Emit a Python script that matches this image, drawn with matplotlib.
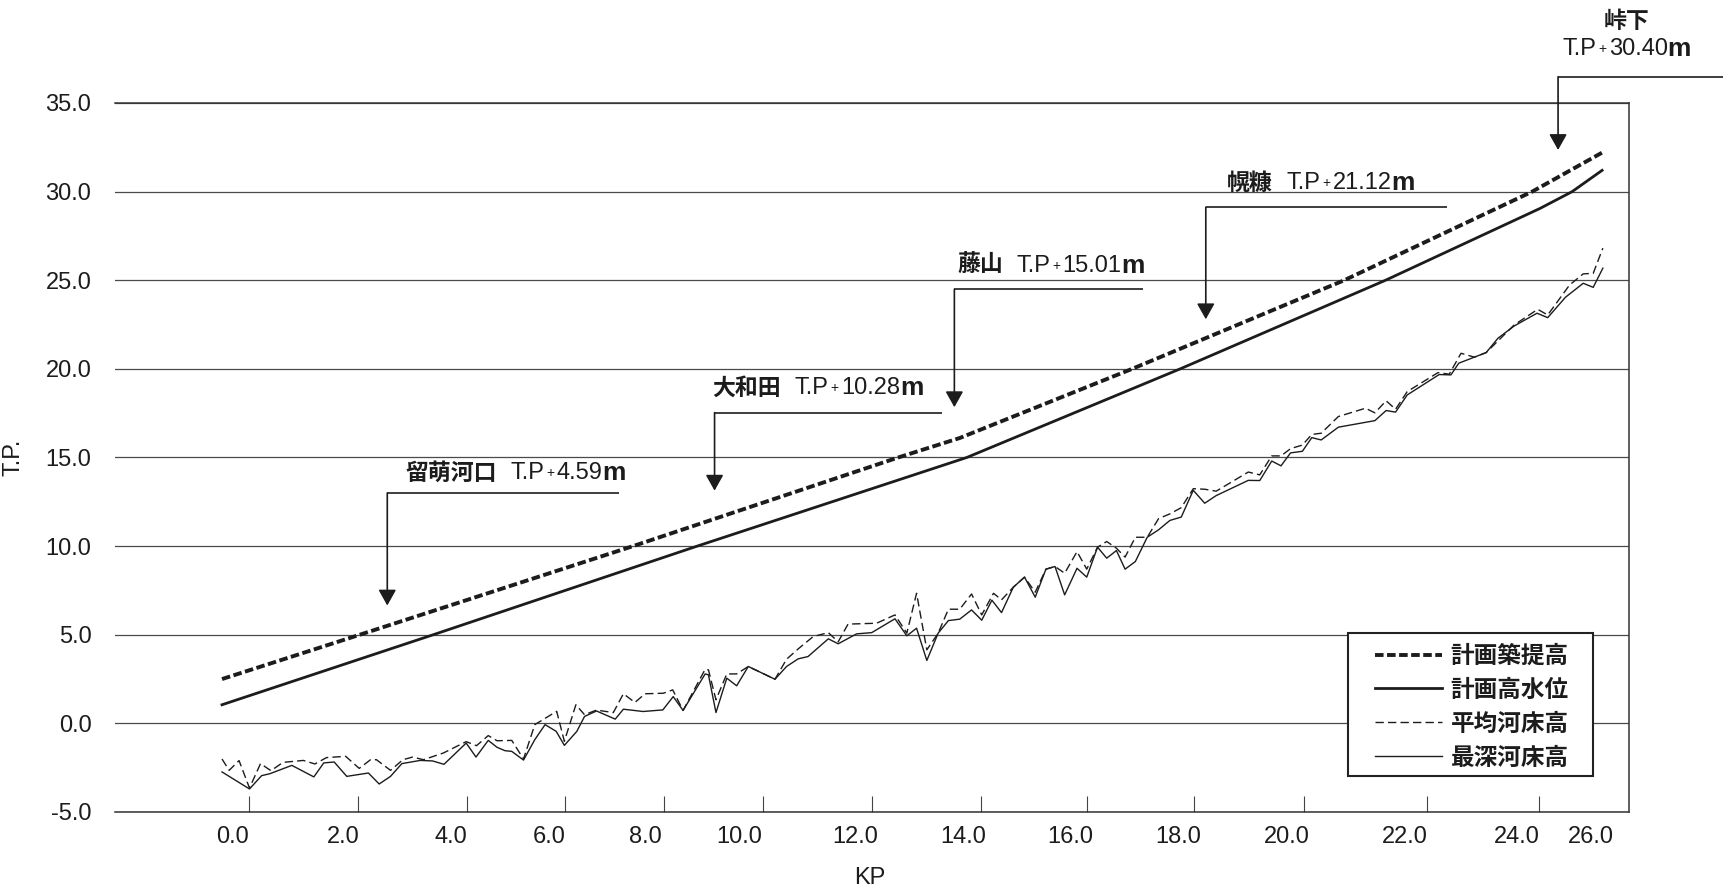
import numpy as np
import matplotlib
matplotlib.use("Agg")
import matplotlib.pyplot as plt
from matplotlib.patches import Rectangle, ArrowStyle
from matplotlib.offsetbox import TextArea, HPacker, AnnotationBbox

plt.rcParams["font.family"] = ["Liberation Sans", "Noto Sans CJK JP", "DejaVu Sans"]

# 計画築提高
kp_levee = [-0.2, 2.31, 7.75, 12.80, 13.94, 17.15, 20.97, 24.41, 26.30]
levee_height = [2.50, 5.00, 10.00, 15.00, 16.10, 20.00, 25.00, 30.00, 32.20]

# 計画高水位
kp_hwl = [-0.2, 3.67, 9.11, 14.07, 18.04, 21.67, 24.62, 25.49, 26.30]
hwl = [1.05, 5.00, 10.00, 15.00, 20.00, 25.00, 29.05, 30.00, 31.20]

# 平均河床高
kp_mean_bed = [-0.2, -0.07, 0.11, 0.30, 0.50, 0.69, 0.91, 1.28, 1.49, 1.70,
               2.05, 2.30, 2.51, 2.62, 2.88, 3.11, 3.29, 3.49, 3.86, 4.31,
               4.52, 4.76, 4.94, 5.24, 5.48, 5.71, 6.16, 6.32, 6.56, 6.74,
               6.99, 7.34, 7.55, 7.79, 8.00, 8.39, 8.59, 8.81, 9.28, 9.35,
               9.51, 9.74, 9.95, 10.16, 10.62, 10.82, 11.02, 11.28, 11.54, 11.71,
               11.88, 12.40, 12.74, 12.96, 13.14, 13.33, 13.54, 13.73, 13.94, 14.16,
               14.35, 14.57, 14.72, 14.94, 15.15, 15.35, 15.55, 15.72, 15.90, 16.13,
               16.31, 16.51, 16.68, 16.86, 17.02, 17.21, 17.43, 17.64, 17.85, 18.06,
               18.28, 18.49, 18.70, 19.29, 19.50, 19.72, 19.89, 20.06, 20.26, 20.42,
               20.58, 20.87, 21.33, 21.49, 21.68, 21.84, 22.04, 22.59, 22.79, 23.00,
               23.24, 23.45, 23.95, 24.56, 24.83, 25.42, 25.79, 26.06, 26.32]
mean_bed = [-2.01, -2.65, -2.10, -3.65, -2.27, -2.67, -2.20, -2.09, -2.29, -1.93,
            -1.86, -2.54, -2.05, -2.05, -2.65, -2.05, -1.90, -2.05, -1.67, -1.03,
            -1.26, -0.69, -0.98, -0.96, -2.01, -0.07, 0.68, -1.01, 1.05, 0.49,
            0.75, 0.61, 1.67, 1.18, 1.67, 1.70, 1.89, 0.73, 3.05, 3.02,
            1.33, 2.79, 2.79, 3.21, 2.49, 3.62, 4.20, 4.90, 5.12, 4.60,
            5.60, 5.65, 6.12, 5.09, 7.34, 4.15, 5.09, 6.44, 6.44, 7.30,
            6.12, 7.34, 6.97, 7.68, 8.25, 7.40, 8.70, 8.85, 8.47, 9.69,
            8.70, 9.94, 10.26, 9.88, 9.38, 10.50, 10.50, 11.55, 11.82, 12.17,
            13.24, 13.21, 13.10, 14.18, 14.02, 15.09, 15.09, 15.50, 15.70, 16.30,
            16.37, 17.31, 17.78, 17.52, 18.20, 17.72, 18.72, 19.79, 19.70, 20.88,
            20.66, 20.92, 22.48, 23.36, 23.04, 24.73, 25.36, 25.39, 26.81]

# 最深河床高
kp_deep_bed = [-0.2, 0.30, 0.52, 0.67, 1.07, 1.47, 1.65, 1.84, 2.07, 2.47,
               2.67, 2.88, 3.09, 3.43, 3.66, 3.87, 4.31, 4.51, 4.76, 4.94,
               5.10, 5.24, 5.48, 5.71, 5.92, 6.15, 6.32, 6.58, 6.74, 6.99,
               7.38, 7.55, 7.96, 8.38, 8.60, 8.81, 9.28, 9.35, 9.51, 9.74,
               9.95, 10.16, 10.62, 10.82, 11.02, 11.19, 11.54, 11.71, 12.03, 12.31,
               12.74, 12.96, 13.14, 13.33, 13.54, 13.73, 13.94, 14.16, 14.35, 14.54,
               14.72, 14.94, 15.15, 15.35, 15.55, 15.72, 15.90, 16.13, 16.31, 16.51,
               16.68, 16.86, 17.02, 17.21, 17.43, 17.64, 17.85, 18.06, 18.28, 18.49,
               18.70, 19.29, 19.50, 19.72, 19.89, 20.06, 20.26, 20.42, 20.58, 20.87,
               21.49, 21.68, 21.84, 22.04, 22.61, 22.82, 22.96, 23.45, 23.66, 23.95,
               24.54, 24.83, 25.31, 25.79, 26.06, 26.32]
deep_bed = [-2.74, -3.70, -2.95, -2.84, -2.37, -3.02, -2.23, -2.18, -2.99, -2.80,
            -3.42, -2.99, -2.27, -2.09, -2.12, -2.31, -1.11, -1.90, -0.96, -1.35,
            -1.54, -1.58, -2.07, -0.92, -0.07, -0.45, -1.24, -0.45, 0.39, 0.70,
            0.24, 0.80, 0.67, 0.76, 1.51, 0.73, 2.79, 2.74, 0.61, 2.55,
            2.12, 3.21, 2.49, 3.21, 3.64, 3.77, 4.77, 4.49, 5.05, 5.12,
            5.90, 4.94, 5.37, 3.55, 5.09, 5.80, 5.88, 6.40, 5.82, 6.95,
            6.25, 7.68, 8.25, 7.12, 8.70, 8.85, 7.25, 8.75, 8.25, 9.94,
            9.32, 9.75, 8.70, 9.13, 10.50, 10.92, 11.45, 11.64, 13.15, 12.42,
            12.85, 13.71, 13.70, 14.80, 14.53, 15.26, 15.35, 16.12, 15.99, 16.71,
            17.08, 17.65, 17.56, 18.53, 19.68, 19.66, 20.32, 20.92, 21.73, 22.42,
            23.14, 22.89, 24.04, 24.83, 24.60, 25.68]

series_names = ["計画築提高", "計画高水位", "平均河床高", "最深河床高"]

stations = ["留萌河口", "大和田", "藤山", "幌糠", "峠下"]
station_tp = ["4.59", "10.28", "15.01", "21.12", "30.40"]

x_ticks = [0.0, 2.0, 4.0, 6.0, 8.0, 10.0, 12.0, 14.0, 16.0, 18.0, 20.0, 22.0, 24.0, 26.0]
x_ticklabels = ["0.0", "2.0", "4.0", "6.0", "8.0", "10.0", "12.0", "14.0",
                "16.0", "18.0", "20.0", "22.0", "24.0", "26.0"]
y_ticks = [-5, 0, 5, 10, 15, 20, 25, 30, 35]
y_ticklabels = ["-5.0", "0.0", "5.0", "10.0", "15.0", "20.0", "25.0", "30.0", "35.0"]

# ---- layout -------------------------------------------------------------
W, H = 1724, 891
ax_left, ax_right, ax_top, ax_bottom = 115, 1629, 103, 812

# the KP axis is laid out section by section, so label spacing is uneven
label_px = [233, 343, 451, 549, 645, 739, 855, 963, 1070, 1178, 1287, 1405, 1517, 1591]
# short marks standing up from the axis, just right of each label
mark_kp = [0.29, 2.28, 4.33, 6.33, 8.40, 10.41, 12.31, 14.34, 16.31, 18.29,
           20.29, 22.39, 24.59]


def _piecewise(x, xp, fp):
    x = np.asarray(x, dtype=float)
    y = np.interp(x, xp, fp)
    lo = (fp[1] - fp[0]) / (xp[1] - xp[0])
    hi = (fp[-1] - fp[-2]) / (xp[-1] - xp[-2])
    y = np.where(x < xp[0], fp[0] + (x - xp[0]) * lo, y)
    y = np.where(x > xp[-1], fp[-1] + (x - xp[-1]) * hi, y)
    return y


def kp_to_pos(kp):
    return _piecewise(kp, x_ticks, label_px)


def pos_to_kp(pos):
    return _piecewise(pos, label_px, x_ticks)


ink = "#1c1c1c"
cjk = ["Noto Sans CJK JP"]

fig = plt.figure(figsize=(W / 100, H / 100), dpi=100)
ax = fig.add_axes([ax_left / W, 1 - ax_bottom / H,
                   (ax_right - ax_left) / W, (ax_bottom - ax_top) / H])
ax.set_xscale("function", functions=(kp_to_pos, pos_to_kp))
ax.set_xlim(float(pos_to_kp(ax_left)), float(pos_to_kp(ax_right)))
ax.set_ylim(-5, 35)

l1, = ax.plot(kp_levee, levee_height, color=ink, lw=2.8, ls=(0, (2.2, 0.9)),
              dash_capstyle="butt", label=series_names[0])
l2, = ax.plot(kp_hwl, hwl, color=ink, lw=2.0, label=series_names[1])
l3, = ax.plot(kp_mean_bed, mean_bed, color=ink, lw=1.0, ls=(0, (6, 3)),
              label=series_names[2])
l4, = ax.plot(kp_deep_bed, deep_bed, color=ink, lw=1.0, label=series_names[3])

# axes frame / grid
ax.set_axisbelow(True)
ax.yaxis.grid(True, color="#4a4a4a", lw=0.9)
ax.spines["left"].set_visible(False)
for s in ("top", "right", "bottom"):
    ax.spines[s].set_color("#333333")
    ax.spines[s].set_linewidth(1.1)

ax.set_yticks(y_ticks, labels=y_ticklabels)
ax.tick_params(axis="y", length=0, pad=17, labelsize=17, labelcolor=ink)
ax.set_xticks(x_ticks, labels=x_ticklabels)
ax.set_xticks(mark_kp, minor=True)
ax.tick_params(axis="x", which="major", length=0, pad=10, labelsize=17, labelcolor=ink)
ax.tick_params(axis="x", which="minor", direction="in", length=11.5, width=0.8,
               color="#444444")

ax.set_xlabel("KP", fontsize=17, color=ink)
ax.xaxis.set_label_coords(0.4987, -0.078)
ax.set_ylabel("T.P.", fontsize=17, color=ink)
ax.yaxis.set_label_coords(-0.0595, 0.5)

# legend: plain square frame drawn separately
ax.add_patch(Rectangle(((1348 - ax_left) / (ax_right - ax_left), (ax_bottom - 776) / (ax_bottom - ax_top)),
                       245 / (ax_right - ax_left), 143 / (ax_bottom - ax_top),
                       transform=ax.transAxes, facecolor="white", edgecolor="#222222",
                       lw=1.5, zorder=4, clip_on=False))
leg = ax.legend(handles=[l1, l2, l3, l4], loc="center left",
                bbox_to_anchor=((1375 - ax_left) / (ax_right - ax_left),
                                (ax_bottom - 706.7) / (ax_bottom - ax_top)),
                frameon=False, borderpad=0, borderaxespad=0, handlelength=2.83,
                handletextpad=0.38, labelspacing=0.42,
                prop={"family": cjk, "weight": "bold", "size": 17})
leg.set_zorder(5)
for t in leg.get_texts():
    t.set_color(ink)

# station call-outs: arrow KP, leader height, arrow tip, leader end, text anchor
callouts = [
    (2.82, 13.00, 6.65, 7.46, 3.15, 14.13),
    (9.48, 17.53, 13.13, 13.61, 9.43, 18.93),
    (13.84, 24.49, 17.84, 17.35, 13.89, 25.81),
    (18.51, 29.12, 22.80, 22.75, 18.90, 30.49),
    (25.11, 36.48, 32.35, 30.00, 26.97, 38.07),
]

head = ArrowStyle("-|>", head_length=0.8, head_width=0.45)


def tp_label(value):
    level = HPacker(children=[
        TextArea("T.P", textprops=dict(fontsize=17, color=ink)),
        TextArea("+", textprops=dict(fontsize=10, color=ink)),
        TextArea(value, textprops=dict(fontsize=17, color=ink)),
    ], align="center", pad=0, sep=1.5)
    unit = TextArea("m", textprops=dict(fontsize=19, fontweight="bold", color=ink))
    return HPacker(children=[level, unit], align="center", pad=0, sep=0)


for i, (ax_kp, lead, tip, end_kp, tx, ty) in enumerate(callouts):
    ax.plot([ax_kp, end_kp], [lead, lead], color=ink, lw=1.2, clip_on=False,
            solid_capstyle="butt")
    ax.annotate("", xy=(ax_kp, tip), xytext=(ax_kp, lead), annotation_clip=False,
                arrowprops=dict(arrowstyle=head, color=ink, lw=1.2,
                                mutation_scale=12, shrinkA=0, shrinkB=0))
    name = TextArea(stations[i], textprops=dict(fontsize=16.5, fontweight="bold",
                                                family=cjk, color=ink))
    if i < len(callouts) - 1:
        box = HPacker(children=[name, tp_label(station_tp[i])], align="center",
                      pad=0, sep=10)
        ab = AnnotationBbox(box, (tx, ty), box_alignment=(0, 0.5), frameon=False,
                            pad=0, annotation_clip=False)
        ax.add_artist(ab)
    else:
        # top station sits above the plot, name over the level
        ab = AnnotationBbox(tp_label(station_tp[i]), (tx, ty), box_alignment=(0.5, 0.5),
                            frameon=False, pad=0, annotation_clip=False)
        ax.add_artist(ab)
        ab = AnnotationBbox(name, (tx, ty + 1.5), box_alignment=(0.5, 0.5),
                            frameon=False, pad=0, annotation_clip=False)
        ax.add_artist(ab)

fig.savefig("out.png", dpi=100)
